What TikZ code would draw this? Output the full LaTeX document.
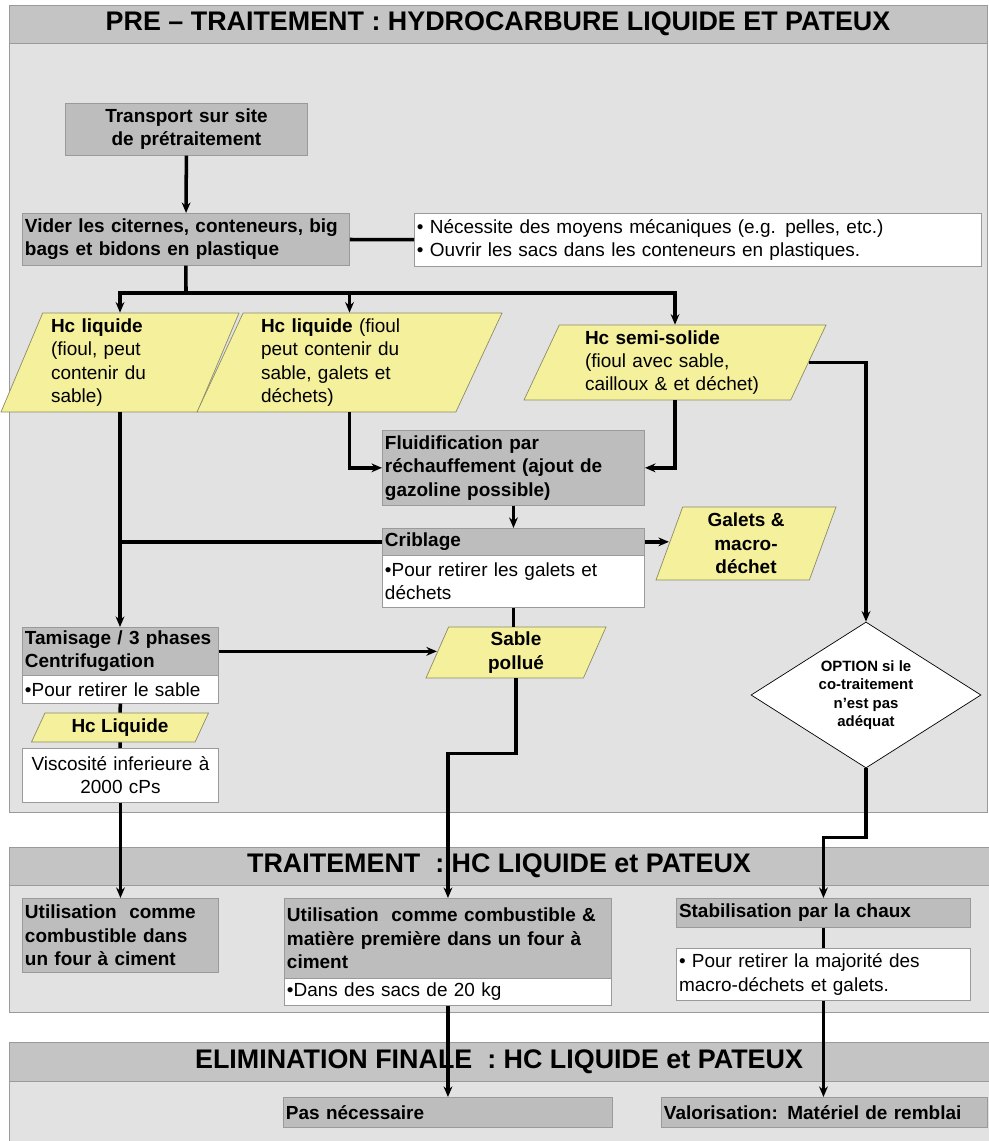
\documentclass[tikz,border=0pt]{standalone}
\usepackage{fontspec}
\setmainfont{Liberation Sans}
\usetikzlibrary{shapes.geometric,arrows.meta}

\definecolor{panelgray}{HTML}{E2E2E2}
\definecolor{bandgray}{HTML}{C4C4C4}
\definecolor{boxgray}{HTML}{BDBDBD}
\definecolor{boxline}{HTML}{9A9A9A}
\definecolor{hcyellow}{HTML}{F5F09C}
\definecolor{hcline}{HTML}{8C8C66}

\newcommand{\boxfont}{\fontsize{10.8}{13.3}\selectfont}
\newcommand{\bandfont}{\bfseries\fontsize{15.3}{17}\selectfont}

\begin{document}
\begin{tikzpicture}[x=0.02cm,y=-0.02cm,
	panel/.style={fill=panelgray,draw=boxline},
	band/.style={fill=bandgray,draw=boxline,minimum width=19.56cm,minimum height=0.76cm,inner sep=0pt,font=\bandfont},
	graybox/.style={fill=boxgray,draw=boxline,anchor=north west,inner xsep=1.5pt,inner ysep=0pt,text width=#1,align=left,font=\boxfont\bfseries},
	whitebox/.style={graybox=#1,fill=white,font=\boxfont},
	hcdata/.style={trapezium,trapezium left angle=#1,trapezium right angle={180-#1},trapezium stretches body,fill=hcyellow,draw=hcline,inner sep=0pt,font=\boxfont},
	choice/.style={diamond,fill=white,draw=black,inner sep=0pt,align=center,font=\bfseries\fontsize{8.5}{10.5}\selectfont},
	flow/.style={line width=2pt,-{Stealth[length=6pt,width=5pt]}},
	link/.style={line width=2pt}]
	\useasboundingbox (0,0) rectangle (989,1141);

	% panels
	\draw[panel] (9,5) rectangle (987,812);
	\draw[panel] (9,847) rectangle (989,1012);
	\draw[panel] (9,1042) rectangle (989,1160);
	\node[band] (pretitle) at (498,24) {PRE -- TRAITEMENT : HYDROCARBURE LIQUIDE ET PATEUX};
	\node[band,minimum width=19.6cm] (traitetitle) at (499,866) {TRAITEMENT\ \ : HC LIQUIDE et PATEUX};
	\node[band,minimum width=19.6cm,minimum height=0.78cm] (elimtitle) at (499,1061.5) {ELIMINATION FINALE\ \ : HC LIQUIDE et PATEUX};

	% pre-traitement
	\node[graybox=4.74cm,minimum height=1.04cm,align=center] (transport) at (65,103) {Transport sur site\\de prétraitement};
	\node[graybox=6.44cm,minimum height=1.04cm] (vider) at (22,213) {Vider les citernes, conteneurs, big\\bags et bidons en plastique};
	\node[whitebox=11.24cm,minimum height=1.06cm] (mecanique) at (414,213) {• Nécessite des moyens mécaniques (e.g. pelles, etc.)\\• Ouvrir les sacs dans les conteneurs en plastiques.};
	\node[hcdata=64.6,minimum width=4.76cm,minimum height=1.98cm,text width=2.76cm,align=left] (hcliq) at (120,362.5) {\textbf{Hc liquide}\\(fioul, peut\\contenir du\\sable)};
	\node[hcdata=62.3,minimum width=6.1cm,minimum height=1.98cm,text width=3.54cm,align=left] (hcgalets) at (349.5,362.5) {\textbf{Hc liquide} (fioul\\peut contenir du\\sable, galets et\\déchets)};
	\node[hcdata=61.3,minimum width=6.04cm,minimum height=1.5cm,text width=3.6cm,align=left] (hcsemi) at (675,362.5) {\textbf{Hc semi-solide}\\(fioul avec sable,\\cailloux \& et déchet)};
	\node[graybox=5.14cm,minimum height=1.5cm] (fluid) at (382,430) {Fluidification par\\réchauffement (ajout de\\gazoline possible)};
	\node[graybox=5.14cm,minimum height=0.54cm] (crible) at (382,528) {Criblage};
	\node[whitebox=5.14cm,minimum height=1.04cm] (cribnote) at (382,555) {•Pour retirer les galets et\\déchets};
	\node[hcdata=66.3,minimum width=3.6cm,minimum height=1.46cm,align=center,font=\boxfont\bfseries] (galets) at (746,543.5) {Galets \&\\macro-\\déchet};
	\node[graybox=3.82cm,minimum height=0.96cm] (tamis) at (22,627) {Tamisage / 3 phases\\Centrifugation};
	\node[whitebox=3.82cm,minimum height=0.56cm] (tamisnote) at (22,675) {•Pour retirer le sable};
	\node[hcdata=61.2,minimum width=3.6cm,minimum height=1.02cm,align=center,font=\boxfont\bfseries] (sable) at (516,652.5) {Sable\\pollué};
	\node[hcdata=52.8,minimum width=3.54cm,minimum height=0.58cm,font=\boxfont\bfseries] (hcliqb) at (120,727.5) {Hc Liquide};
	\node[whitebox=3.82cm,minimum height=1.08cm,align=center] (visc) at (22,748) {Viscosité inferieure à\\2000 cPs};
	\node[choice,minimum width=4.6cm,minimum height=2.92cm,aspect=1.6] (option) at (866,695) {OPTION si le\\co-traitement\\n'est pas\\adéquat};

	% traitement
	\node[graybox=3.82cm,minimum height=1.48cm] (fourciment) at (22,898) {Utilisation\ \ comme\\combustible dans\\un four à ciment};
	\node[graybox=6.44cm,minimum height=1.6cm] (cotraite) at (284,898) {Utilisation\ \ comme combustible \&\\matière première dans un four à\\ciment};
	\node[whitebox=6.44cm,minimum height=0.54cm] (sacs) at (284,978) {•Dans des sacs de 20 kg};
	\node[graybox=5.78cm,minimum height=0.58cm] (chaux) at (676,898) {Stabilisation par la chaux};
	\node[whitebox=5.78cm,minimum height=1.04cm] (chauxnote) at (676,948) {• Pour retirer la majorité des\\macro-déchets et galets.};

	% elimination finale
	\node[graybox=6.48cm,minimum height=0.6cm] (pasnec) at (283,1097) {Pas nécessaire};
	\node[graybox=6.42cm,minimum height=0.6cm] (remblai) at (661,1097) {Valorisation: Matériel de remblai};

	% connectors
	\coordinate (split) at (186,293);
	\draw[flow] (transport) -- (vider);
	\draw[link] (vider) -- (mecanique);
	\draw[link] (vider.south) -- (split);
	\draw[flow] (split) -| (hcliq.north);
	\draw[flow] (split) -| (hcgalets.north);
	\draw[flow] (split) -| (hcsemi.north);
	\draw[flow] (hcgalets.south) |- (fluid.west);
	\draw[flow] (hcsemi.south) |- (fluid.east);
	\draw[flow] (hcsemi.east) -| (option.north);
	\draw[flow] (fluid) -- (crible);
	\draw[link] (hcliq.south |- crible.west) -- (crible.west);
	\draw[flow] (crible.east) -- (crible.east -| galets.west);
	\draw[link] (cribnote.south) -- (cribnote.south |- sable.north);
	\draw[flow] (hcliq.south) -- (hcliq.south |- tamis.north);
	\draw[flow] (tamis.east) -- (tamis.east -| sable.west);
	\draw[link] (tamisnote) -- (hcliqb) -- (visc);
	\draw[flow] (visc) -- (fourciment);
	\draw[flow] (sable.south) -- ++(0,75) -| (cotraite.north);
	\draw[flow] (option.south) -- ++(0,69) -| (chaux.north);
	\draw[link] (chaux) -- (chauxnote);
	\draw[flow] (sacs) -- (sacs.south |- pasnec.north);
	\draw[flow] (chauxnote) -- (chauxnote.south |- remblai.north);
\end{tikzpicture}
\end{document}
